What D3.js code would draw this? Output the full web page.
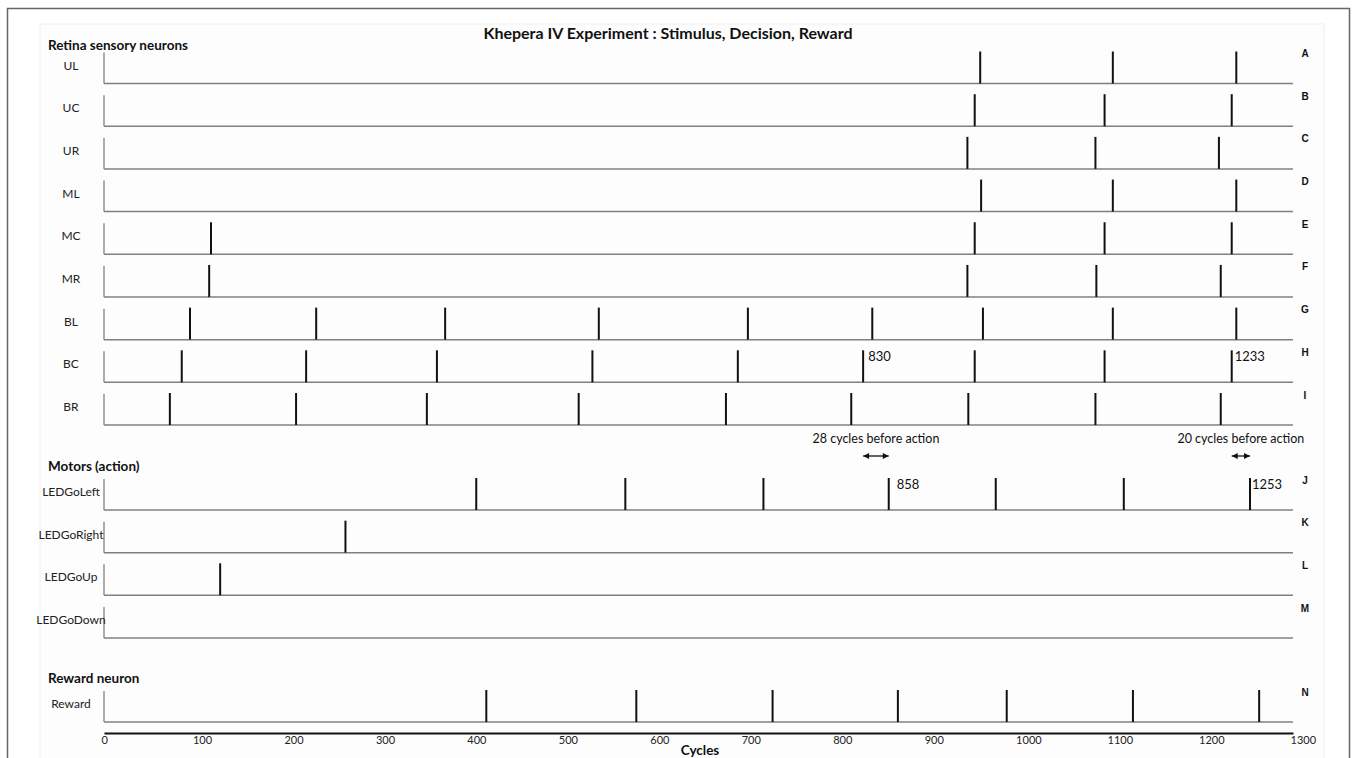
<!DOCTYPE html>
<html>
<head>
<meta charset="utf-8">
<script src="https://cdn.jsdelivr.net/npm/d3@7"></script>
<style>
  body { margin: 0; background: #fff; }
  svg { font-family: Lato, "Open Sans", sans-serif; }
</style>
</head>
<body>
<div id="chart"></div>
<script>
// Spike times (cycles)
const retinaNeurons = ['UL', 'UC', 'UR', 'ML', 'MC', 'MR', 'BL', 'BC', 'BR'];
const retinaLetters = ['A', 'B', 'C', 'D', 'E', 'F', 'G', 'H', 'I'];
const spikesUL = [958, 1103, 1238];
const spikesUC = [952, 1094, 1233];
const spikesUR = [944, 1084, 1219];
const spikesML = [959, 1103, 1238];
const spikesMC = [117, 952, 1094, 1233];
const spikesMR = [115, 944, 1085, 1221];
const spikesBL = [94, 232, 373, 541, 704, 840, 961, 1103, 1238];
const spikesBC = [85, 221, 364, 534, 693, 830, 952, 1094, 1233];
const spikesBR = [72, 210, 353, 519, 680, 817, 945, 1084, 1221];

const motorNeurons = ['LEDGoLeft', 'LEDGoRight', 'LEDGoUp', 'LEDGoDown'];
const motorLetters = ['J', 'K', 'L', 'M'];
const spikesGoLeft = [407, 570, 721, 858, 975, 1115, 1253];
const spikesGoRight = [264];
const spikesGoUp = [127];
const spikesGoDown = [];

const rewardNeurons = ['Reward'];
const rewardLetters = ['N'];
const spikesReward = [418, 582, 731, 868, 987, 1125, 1263];

const xTickValues = [0, 100, 200, 300, 400, 500, 600, 700, 800, 900, 1000, 1100, 1200, 1300];

// annotated spikes and stimulus -> action delays
const labeledSpikes = [
  { neuron: 'BC', value: 830 },
  { neuron: 'BC', value: 1233 },
  { neuron: 'LEDGoLeft', value: 858 },
  { neuron: 'LEDGoLeft', value: 1253 }
];
const delays = [
  { from: 830, to: 858, text: '28 cycles before action' },
  { from: 1233, to: 1253, text: '20 cycles before action' }
];

const spikeTable = {
  UL: spikesUL, UC: spikesUC, UR: spikesUR, ML: spikesML, MC: spikesMC,
  MR: spikesMR, BL: spikesBL, BC: spikesBC, BR: spikesBR,
  LEDGoLeft: spikesGoLeft, LEDGoRight: spikesGoRight, LEDGoUp: spikesGoUp,
  LEDGoDown: spikesGoDown, Reward: spikesReward
};

const width = 1360;
const height = 758;
const rowH = 31;

const svg = d3.select('#chart')
  .append('svg')
  .attr('width', width)
  .attr('height', height);

// outer frame and inner panel
svg.append('rect')
  .attr('x', 7.5).attr('y', 8.5)
  .attr('width', 1342).attr('height', 770)
  .attr('fill', '#fff')
  .attr('stroke', '#666')
  .attr('stroke-width', 1.5);

svg.append('rect')
  .attr('x', 40).attr('y', 24)
  .attr('width', 1284).attr('height', 760)
  .attr('fill', '#fdfdfd')
  .attr('stroke', '#efefef');

const x = d3.scaleLinear().domain([0, 1300]).range([104, 1293]);

// vertical position of each row's baseline
const yRetina = d3.scalePoint().domain(retinaNeurons).range([83.5, 425]);
const yMotor = d3.scalePoint().domain(motorNeurons).range([510, 638]);
const yReward = d3.scalePoint().domain(rewardNeurons).range([722, 722]);

const rowY = (name) => {
  if (retinaNeurons.includes(name)) return yRetina(name);
  if (motorNeurons.includes(name)) return yMotor(name);
  return yReward(name);
};

function drawGroup(names, letters) {
  const rows = svg.append('g')
    .selectAll('.row')
    .data(names)
    .enter()
    .append('g')
    .attr('class', 'row')
    .attr('transform', (d) => `translate(0,${rowY(d)})`);

  // left axis tick and baseline
  rows.append('line')
    .attr('x1', x(0)).attr('x2', x(0))
    .attr('y1', -rowH).attr('y2', 0)
    .attr('stroke', '#777')
    .attr('stroke-width', 1.2);

  rows.append('line')
    .attr('x1', x(0)).attr('x2', x(1300))
    .attr('y1', 0).attr('y2', 0)
    .attr('stroke', '#808080')
    .attr('stroke-width', 1.5);

  // spikes
  rows.selectAll('.spike')
    .data((d) => spikeTable[d])
    .enter()
    .append('line')
    .attr('class', 'spike')
    .attr('x1', (d) => x(d)).attr('x2', (d) => x(d))
    .attr('y1', -rowH - 1).attr('y2', 0)
    .attr('stroke', '#111')
    .attr('stroke-width', 2);

  rows.append('text')
    .attr('x', 71)
    .attr('y', -14)
    .attr('text-anchor', 'middle')
    .style('font-size', '12px')
    .style('fill', '#222')
    .text((d) => d);

  rows.append('text')
    .attr('x', 1305)
    .attr('y', -26.5)
    .attr('text-anchor', 'middle')
    .style('font-family', '"Liberation Sans", Arial, sans-serif')
    .style('font-size', '10px')
    .style('font-weight', 'bold')
    .style('fill', '#111')
    .text((d, i) => letters[i]);
}

drawGroup(retinaNeurons, retinaLetters);
drawGroup(motorNeurons, motorLetters);
drawGroup(rewardNeurons, rewardLetters);

// title and group headings
svg.append('text')
  .attr('x', 668).attr('y', 39)
  .attr('text-anchor', 'middle')
  .style('font-size', '16px')
  .style('font-weight', 'bold')
  .style('fill', '#111')
  .text('Khepera IV Experiment : Stimulus, Decision, Reward');

const headings = [
  { text: 'Retina sensory neurons', y: 50 },
  { text: 'Motors (action)', y: 471 },
  { text: 'Reward neuron', y: 683 }
];
svg.selectAll('.heading')
  .data(headings)
  .enter()
  .append('text')
  .attr('class', 'heading')
  .attr('x', 48)
  .attr('y', (d) => d.y)
  .style('font-size', '13.5px')
  .style('font-weight', 'bold')
  .style('fill', '#111')
  .text((d) => d.text);

// x axis
const xAxis = svg.append('g')
  .attr('class', 'x-axis')
  .attr('transform', 'translate(0,733)')
  .call(d3.axisBottom(x).tickValues(xTickValues).tickSize(0).tickPadding(3).tickFormat(d3.format('d')));

xAxis.select('.domain')
  .attr('stroke', '#111')
  .attr('stroke-width', 2);

xAxis.selectAll('text')
  .attr('text-anchor', 'start')
  .attr('dx', -3)
  .style('font-family', 'Lato, sans-serif')
  .style('font-size', '11px')
  .style('fill', '#222');

svg.append('text')
  .attr('x', 700).attr('y', 755)
  .attr('text-anchor', 'middle')
  .style('font-size', '13.5px')
  .style('font-weight', 'bold')
  .style('fill', '#111')
  .text('Cycles');

// labels next to key spikes
const labelDx = [5, 3, 8, 2];
svg.selectAll('.spike-label')
  .data(labeledSpikes)
  .enter()
  .append('text')
  .attr('class', 'spike-label')
  .attr('x', (d, i) => x(d.value) + labelDx[i])
  .attr('y', (d) => rowY(d.neuron) - rowH + 10)
  .style('font-size', '13px')
  .style('fill', '#111')
  .text((d) => d.value);

// delay arrows
const defs = svg.append('defs');
['start', 'end'].forEach((k) => {
  defs.append('marker')
    .attr('id', `arrow-${k}`)
    .attr('viewBox', '0 0 10 10')
    .attr('refX', k === 'end' ? 10 : 0)
    .attr('refY', 5)
    .attr('markerWidth', 8)
    .attr('markerHeight', 6)
    .attr('markerUnits', 'userSpaceOnUse')
    .attr('orient', 'auto')
    .append('path')
    .attr('d', k === 'end' ? 'M0,0L10,5L0,10Z' : 'M10,0L0,5L10,10Z')
    .attr('fill', '#111');
});

const delayG = svg.selectAll('.delay')
  .data(delays)
  .enter()
  .append('g')
  .attr('class', 'delay');

delayG.append('line')
  .attr('x1', (d) => x(d.from))
  .attr('x2', (d) => x(d.to))
  .attr('y1', 456).attr('y2', 456)
  .attr('stroke', '#111')
  .attr('stroke-width', 1.3)
  .attr('marker-start', 'url(#arrow-start)')
  .attr('marker-end', 'url(#arrow-end)');

delayG.append('text')
  .attr('x', (d) => (x(d.from) + x(d.to)) / 2)
  .attr('y', 443)
  .attr('text-anchor', 'middle')
  .style('font-size', '12.5px')
  .style('fill', '#111')
  .text((d) => d.text);
</script>
</body>
</html>
